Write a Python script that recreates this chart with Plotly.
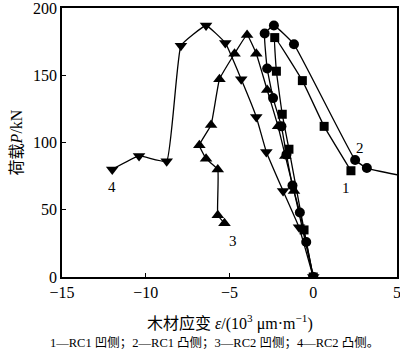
import plotly.graph_objects as go

# Series 1: RC1 concave side (squares)
s1_x = [0, -0.55, -1.45, -1.85, -2.2, -2.3, -0.65, 0.65, 2.25]
s1_y = [0, 35, 95, 121, 153, 178, 146, 112, 79]
# Series 2: RC1 convex side (circles)
s2_x = [0, -0.42, -0.8, -1.24, -1.6, -1.9, -2.4, -2.75, -2.9, -2.35, -1.15, 2.5, 3.2, 5.6]
s2_y = [0, 26, 48, 68, 91, 112, 133, 155, 181, 187, 173, 87, 81, 74.5]
# Series 3: RC2 concave side (triangles up)
s3_x = [0, -1.15, -1.67, -2.1, -2.75, -3.4, -3.95, -4.7, -5.6, -6.1, -6.8, -6.4, -5.7, -5.7, -5.3]
s3_y = [0, 64, 90, 112, 139, 166, 180, 166, 147, 113, 98, 88, 80, 46, 40]
# Series 4: RC2 convex side (triangles down)
s4_x = [-12, -10.4, -8.75, -7.9, -6.4, -5.25, -4.3, -3.4, -2.8, -1.8, -0.85, 0]
s4_y = [80, 90, 86, 172, 187, 174, 147, 119, 93, 64, 37, 0]

series_labels = ["1", "2", "3", "4"]
label_x = [1.96, 2.8, -4.82, -12.0]
label_y = [66, 96, 27, 67]
caption = "1—RC1 凹侧；2—RC1 凸侧；3—RC2 凹侧；4—RC2 凸侧。"

FONT = "Liberation Serif, Noto Sans CJK SC"
NUMFONT = "Liberation Serif"

fig = go.Figure()
specs = [
    (s1_x, s1_y, "square", 9),
    (s2_x, s2_y, "circle", 10),
    (s3_x, s3_y, "triangle-up", 11),
    (s4_x, s4_y, "triangle-down", 11),
]
for xs, ys, sym, sz in specs:
    fig.add_trace(go.Scatter(
        x=xs, y=ys, mode="lines+markers",
        line=dict(color="black", width=1.3, shape="spline", smoothing=0.3),
        marker=dict(symbol=sym, size=sz, color="black"),
        showlegend=False, cliponaxis=True, hoverinfo="skip",
    ))

for t, lx, ly in zip(series_labels, label_x, label_y):
    fig.add_annotation(x=lx, y=ly, text=t, showarrow=False,
                       font=dict(family=NUMFONT, size=15, color="black"))

fig.add_annotation(xref="paper", yref="paper", x=0.5, y=-0.17, yanchor="middle",
                   text="木材应变 <i>ε</i>/(10<sup>3</sup> μm·m<sup>−1</sup>)",
                   showarrow=False, font=dict(family=FONT, size=16, color="black"))
fig.add_annotation(xref="paper", yref="paper", x=0.455, y=-0.245, yanchor="middle",
                   text=caption, showarrow=False,
                   font=dict(family=FONT, size=12.5, color="black"))

fig.update_layout(
    width=400, height=359,
    margin=dict(l=62, r=3, t=8, b=82, autoexpand=False),
    plot_bgcolor="white", paper_bgcolor="white",
    font=dict(family=FONT, size=16, color="black"),
)
fig.update_xaxes(range=[-15, 5], tickvals=[-15, -10, -5, 0, 5], automargin=False,
                 ticks="inside", ticklen=4, tickcolor="black",
                 showline=True, linecolor="black", linewidth=1.5, mirror=True,
                 showgrid=False, zeroline=False, tickfont=dict(family=NUMFONT, size=16),
                 ticklabeloverflow="allow")
fig.update_yaxes(range=[0, 200], tickvals=[0, 50, 100, 150, 200], automargin=False,
                 ticks="inside", ticklen=4, tickcolor="black",
                 showline=True, linecolor="black", linewidth=1.5, mirror=True,
                 showgrid=False, zeroline=False, tickfont=dict(family=NUMFONT, size=16),
                 ticklabeloverflow="allow",
                 title=dict(text="荷载<i>P</i>/kN", font=dict(family=FONT, size=16), standoff=6))

fig.write_html("out.html", config={"displayModeBar": False},
               post_script="document.body.style.margin='0';document.body.style.overflow='hidden';")
